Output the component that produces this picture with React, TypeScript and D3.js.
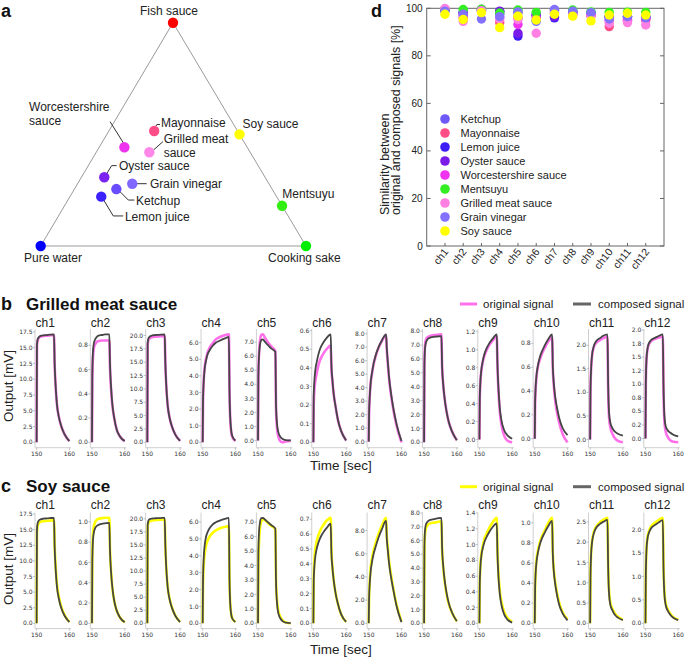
import React from 'react';
import * as d3 from 'd3';

const SANS = "'Liberation Sans', Arial, Helvetica, sans-serif";
const MPL = "'DejaVu Sans', sans-serif";

// ---------------- Panel a : ternary map ----------------
const TERN_NAMES = ['Fish sauce', 'Pure water', 'Cooking sake', 'Soy sauce', 'Mentsuyu', 'Mayonnaise', 'Grilled meat sauce', 'Worcestershire sauce', 'Oyster sauce', 'Grain vinegar', 'Ketchup', 'Lemon juice'];
const TERN_FISH = [1, 0, 0, 0.5, 0.18, 0.515, 0.42, 0.442, 0.308, 0.279, 0.255, 0.221];
const TERN_SAKE = [0, 0, 1, 0.5, 0.82, 0.171, 0.2, 0.095, 0.086, 0.206, 0.158, 0.118];
const TERN_COLORS = ['#ff0000', '#0000ff', '#00ee00', '#ffff00', '#33ee11', '#ff4d88', '#ff88e8', '#ee33ee', '#7a22f0', '#8068ff', '#6a4cff', '#3c22ff'];

// label layout: lines, offset from dot, anchor, leader polyline (offsets)
const TERN_LABEL_LAYOUT: { lines: string[]; dx: number; dy: number; anchor?: string; leader?: number[][] }[] = [
  { lines: ['Fish sauce'], dx: -4, dy: -7.7, anchor: 'middle' },
  { lines: ['Pure water'], dx: -16.7, dy: 16 },
  { lines: ['Cooking sake'], dx: -38, dy: 16 },
  { lines: ['Soy sauce'], dx: 3, dy: -6 },
  { lines: ['Mentsuyu'], dx: 0.3, dy: -8 },
  { lines: ['Mayonnaise'], dx: 6.7, dy: -4, leader: [[5.7, -6.5], [2.6, -6.5], [1.5, -4.5]] },
  { lines: ['Grilled meat', 'sauce'], dx: 14.3, dy: -9.5, leader: [[13.6, -10.6], [4.3, -2.3]] },
  { lines: ['Worcestershire', 'sauce'], dx: -95.3, dy: -36.2, leader: [[-14.3, -25.6], [-0.3, -3.3]] },
  { lines: ['Oyster sauce'], dx: 14.7, dy: -7.3, leader: [[12.4, -11.6], [7.4, -11.6], [1.7, -2.3]] },
  { lines: ['Grain vinegar'], dx: 17.7, dy: 4.3, leader: [[4.4, 0], [14.4, 0]] },
  { lines: ['Ketchup'], dx: 19.7, dy: 16, leader: [[2.7, 1.7], [12, 11], [18, 11]] },
  { lines: ['Lemon juice'], dx: 23.7, dy: 24.3, leader: [[2, 2.6], [12, 19.3], [22, 19.3]] },
];

// ---------------- Panel d : similarity ----------------
const CHANNELS = ['ch1', 'ch2', 'ch3', 'ch4', 'ch5', 'ch6', 'ch7', 'ch8', 'ch9', 'ch10', 'ch11', 'ch12'];
const SIM_NAMES = ['Ketchup', 'Mayonnaise', 'Lemon juice', 'Oyster sauce', 'Worcestershire sauce', 'Mentsuyu', 'Grilled meat sauce', 'Grain vinegar', 'Soy sauce'];
const SIM_COLORS = ['#6e58f8', '#ff4d88', '#3c1ef5', '#7a1ce8', '#f033f0', '#33ee22', '#ff80e2', '#8272ff', '#ffff00'];
const SIM_KETCHUP = [99, 98.5, 99.5, 97.5, 98, 95, 99.3, 98.5, 98, 96, 96.5, 96];
const SIM_MAYONNAISE = [99.5, 96, 99, 94, 96, 97, 98, 97.5, 97, 92.3, 95, 95];
const SIM_LEMON = [99.3, 98, 99, 98.6, 88.3, 97, 96, 98, 97.5, 96.5, 96, 96];
const SIM_OYSTER = [99.5, 98, 99.5, 98.8, 89.5, 97.5, 96.5, 98.5, 98, 96.5, 96.5, 96.5];
const SIM_WORCESTER = [99.5, 97, 99, 96, 93.2, 96, 98, 98, 97, 95, 95, 95.5];
const SIM_MENTSUYU = [99.5, 99.5, 99.6, 98, 99.3, 98.3, 99, 99.3, 98.5, 98.3, 98.4, 98.3];
const SIM_GRILLED = [99.9, 94.5, 99, 95.5, 95.3, 89.5, 99, 97, 97, 93.7, 94, 93];
const SIM_GRAIN = [98.8, 97.5, 95.5, 96.5, 98.5, 94.5, 99.5, 98.8, 98.2, 95.5, 96.5, 96];
const SIM_SOY = [97.5, 95.3, 98.2, 91.9, 96.7, 95.1, 97.5, 96.7, 94.7, 97.2, 97.9, 97.2];
const SIM_SERIES = [SIM_KETCHUP, SIM_MAYONNAISE, SIM_LEMON, SIM_OYSTER, SIM_WORCESTER, SIM_MENTSUYU, SIM_GRILLED, SIM_GRAIN, SIM_SOY];
const SIM_TICKS = [0, 20, 40, 60, 80, 100];

// ---------------- Panels b, c : signals ----------------
const TIME_STD = [150, 150.1, 150.3, 150.6, 151, 151.5, 152, 153, 154, 155.3, 155.5, 155.8, 156.2, 156.8, 157.5, 158.5, 160];
const TIME_CH4 = [150, 150.1, 150.3, 150.6, 151, 151.5, 152, 153, 154, 155, 156, 157, 158, 158.2, 158.5, 159, 160];
const X_TICKS = [150, 160];

const B_COMP = [
  [0, 15.5, 16.3, 16.6, 16.8, 16.9, 16.95, 17.0, 17.05, 17.1, 12.5, 9.0, 6.0, 4.0, 2.6, 1.3, 0.2],
  [0, 0.55, 0.75, 0.82, 0.85, 0.87, 0.88, 0.885, 0.89, 0.89, 0.65, 0.47, 0.32, 0.2, 0.11, 0.05, 0.01],
  [0, 18.5, 19.4, 19.7, 19.9, 20.0, 20.05, 20.1, 20.15, 20.2, 15.0, 10.5, 7.0, 4.6, 3.0, 1.5, 0.25],
  [0, 2.5, 3.6, 4.4, 4.9, 5.3, 5.5, 5.8, 6.0, 6.1, 6.2, 6.28, 6.35, 3.0, 1.2, 0.4, 0.1],
  [0, 4.5, 6.0, 6.8, 7.15, 7.2, 7.05, 6.8, 6.55, 6.3, 2.5, 1.2, 0.6, 0.28, 0.12, 0.04, 0.01],
  [0, 0.25, 0.33, 0.39, 0.43, 0.47, 0.5, 0.535, 0.56, 0.58, 0.42, 0.34, 0.26, 0.19, 0.12, 0.06, 0.01],
  [0, 2.0, 3.3, 4.4, 5.1, 5.8, 6.3, 7.0, 7.5, 7.95, 7.0, 6.0, 4.8, 3.6, 2.5, 1.3, 0.05],
  [0, 5.5, 6.8, 7.2, 7.4, 7.5, 7.55, 7.6, 7.62, 7.65, 5.5, 4.3, 3.3, 2.3, 1.5, 0.8, 0.15],
  [0, 0.45, 0.65, 0.78, 0.87, 0.95, 1.0, 1.07, 1.12, 1.17, 0.85, 0.58, 0.36, 0.2, 0.11, 0.05, 0.01],
  [0, 0.3, 0.45, 0.55, 0.62, 0.68, 0.72, 0.78, 0.83, 0.875, 0.62, 0.47, 0.36, 0.26, 0.17, 0.09, 0.03],
  [0, 1.0, 1.5, 1.8, 1.95, 2.05, 2.1, 2.15, 2.2, 2.23, 1.2, 0.55, 0.35, 0.24, 0.17, 0.12, 0.08],
  [0, 1.0, 1.45, 1.65, 1.75, 1.8, 1.83, 1.86, 1.89, 1.92, 1.0, 0.4, 0.22, 0.15, 0.11, 0.07, 0.04],
];
const B_ORIG = [
  [0, 15.3, 16.1, 16.5, 16.7, 16.8, 16.85, 16.9, 16.95, 17.0, 12.4, 8.9, 6.0, 4.0, 2.6, 1.3, 0.2],
  [0, 0.5, 0.7, 0.78, 0.81, 0.83, 0.835, 0.84, 0.84, 0.84, 0.62, 0.45, 0.31, 0.2, 0.11, 0.05, 0.01],
  [0, 18.2, 19.1, 19.4, 19.6, 19.7, 19.75, 19.8, 19.85, 19.9, 14.8, 10.4, 7.0, 4.6, 3.0, 1.5, 0.25],
  [0, 2.5, 3.7, 4.5, 5.0, 5.4, 5.65, 5.95, 6.2, 6.32, 6.4, 6.46, 6.5, 3.0, 1.1, 0.35, 0.08],
  [0, 4.6, 6.2, 7.1, 7.5, 7.55, 7.35, 7.0, 6.7, 6.35, 2.3, 0.9, 0.3, -0.05, -0.12, -0.06, 0.0],
  [0, 0.2, 0.28, 0.33, 0.37, 0.41, 0.44, 0.475, 0.5, 0.52, 0.4, 0.33, 0.26, 0.19, 0.12, 0.06, 0.01],
  [0, 2.0, 3.3, 4.35, 5.05, 5.75, 6.25, 6.95, 7.45, 7.9, 6.9, 5.9, 4.7, 3.5, 2.4, 1.2, -0.05],
  [0, 5.6, 7.0, 7.4, 7.55, 7.62, 7.68, 7.72, 7.75, 7.77, 5.5, 4.3, 3.3, 2.3, 1.5, 0.8, 0.15],
  [0, 0.45, 0.64, 0.77, 0.86, 0.93, 0.98, 1.05, 1.1, 1.15, 0.83, 0.55, 0.32, 0.15, 0.05, -0.01, -0.03],
  [0, 0.3, 0.44, 0.54, 0.61, 0.66, 0.7, 0.76, 0.81, 0.85, 0.6, 0.45, 0.33, 0.22, 0.13, 0.04, -0.03],
  [0, 1.0, 1.5, 1.78, 1.93, 2.02, 2.06, 2.11, 2.15, 2.18, 1.1, 0.45, 0.25, 0.12, 0.03, -0.03, -0.06],
  [0, 1.0, 1.45, 1.64, 1.73, 1.78, 1.81, 1.84, 1.86, 1.88, 0.9, 0.3, 0.12, 0.03, -0.03, -0.06, -0.07],
];
const C_COMP = [
  [0, 15.0, 16.0, 16.4, 16.6, 16.7, 16.75, 16.8, 16.85, 16.9, 12.3, 8.8, 5.9, 3.9, 2.5, 1.25, 0.2],
  [0, 0.6, 0.82, 0.9, 0.94, 0.96, 0.97, 0.98, 0.985, 0.99, 0.72, 0.52, 0.36, 0.22, 0.13, 0.06, 0.01],
  [0, 18.8, 19.6, 19.9, 20.0, 20.05, 20.1, 20.12, 20.15, 20.2, 15.0, 10.5, 7.0, 4.6, 3.0, 1.5, 0.25],
  [0, 2.5, 3.8, 4.6, 5.1, 5.4, 5.6, 5.85, 5.98, 6.07, 6.14, 6.2, 6.25, 2.5, 0.9, 0.3, 0.08],
  [0, 4.8, 6.3, 7.0, 7.28, 7.3, 7.2, 7.0, 6.8, 6.55, 2.8, 1.4, 0.7, 0.35, 0.15, 0.05, 0.01],
  [0, 0.28, 0.38, 0.45, 0.5, 0.54, 0.57, 0.61, 0.64, 0.67, 0.48, 0.38, 0.29, 0.2, 0.13, 0.06, 0.01],
  [0, 2.0, 3.4, 4.5, 5.3, 6.0, 6.5, 7.4, 8.1, 8.85, 7.4, 6.4, 5.2, 4.0, 2.9, 1.5, 0.1],
  [0, 5.5, 6.8, 7.2, 7.35, 7.45, 7.5, 7.55, 7.6, 7.65, 5.5, 4.3, 3.3, 2.3, 1.5, 0.8, 0.15],
  [0, 0.5, 0.72, 0.86, 0.95, 1.03, 1.08, 1.16, 1.22, 1.27, 0.9, 0.6, 0.38, 0.22, 0.12, 0.05, 0.01],
  [0, 0.35, 0.52, 0.63, 0.71, 0.78, 0.83, 0.9, 0.96, 1.02, 0.7, 0.52, 0.4, 0.28, 0.18, 0.1, 0.03],
  [0, 1.1, 1.7, 2.0, 2.18, 2.3, 2.37, 2.45, 2.5, 2.55, 1.4, 0.7, 0.45, 0.32, 0.22, 0.14, 0.08],
  [0, 1.0, 1.55, 1.8, 1.92, 2.0, 2.05, 2.1, 2.15, 2.2, 1.2, 0.6, 0.38, 0.27, 0.19, 0.12, 0.07],
];
const C_ORIG = [
  [0, 14.5, 15.6, 16.0, 16.2, 16.3, 16.35, 16.4, 16.45, 16.5, 12.5, 9.2, 6.3, 4.2, 2.7, 1.35, 0.22],
  [0, 0.65, 0.88, 0.96, 1.0, 1.02, 1.03, 1.035, 1.04, 1.04, 0.74, 0.53, 0.36, 0.22, 0.13, 0.06, 0.01],
  [0, 18.4, 19.2, 19.5, 19.6, 19.7, 19.75, 19.78, 19.82, 19.85, 14.9, 10.5, 7.1, 4.7, 3.1, 1.55, 0.27],
  [0, 2.3, 3.4, 4.1, 4.6, 4.9, 5.1, 5.35, 5.5, 5.6, 5.67, 5.72, 5.75, 2.4, 0.95, 0.32, 0.08],
  [0, 4.0, 5.6, 6.6, 7.05, 7.2, 7.15, 6.95, 6.75, 6.5, 3.0, 1.6, 0.85, 0.45, 0.2, 0.06, 0.01],
  [0, 0.3, 0.42, 0.5, 0.55, 0.59, 0.62, 0.66, 0.69, 0.71, 0.5, 0.39, 0.29, 0.2, 0.13, 0.06, 0.01],
  [0, 2.1, 3.6, 4.8, 5.6, 6.3, 6.8, 7.7, 8.4, 9.1, 7.6, 6.6, 5.4, 4.2, 3.0, 1.6, 0.15],
  [0, 5.2, 6.5, 6.9, 7.1, 7.2, 7.25, 7.3, 7.35, 7.4, 5.4, 4.2, 3.2, 2.2, 1.45, 0.78, 0.15],
  [0, 0.5, 0.73, 0.88, 0.98, 1.07, 1.12, 1.21, 1.28, 1.34, 0.95, 0.65, 0.42, 0.26, 0.15, 0.07, 0.02],
  [0, 0.35, 0.53, 0.65, 0.73, 0.8, 0.85, 0.92, 0.99, 1.05, 0.72, 0.54, 0.42, 0.3, 0.2, 0.11, 0.04],
  [0, 1.1, 1.72, 2.03, 2.21, 2.33, 2.4, 2.49, 2.55, 2.6, 1.5, 0.78, 0.5, 0.36, 0.25, 0.16, 0.09],
  [0, 1.0, 1.57, 1.83, 1.95, 2.04, 2.09, 2.15, 2.2, 2.25, 1.3, 0.66, 0.42, 0.3, 0.21, 0.13, 0.08],
];
const B_TICK_STEP = [2.5, 0.2, 2.5, 1, 1, 0.1, 1, 1, 0.2, 0.2, 0.5, 0.25];
const C_TICK_STEP = [2.5, 0.2, 2.5, 1, 1, 0.1, 2, 1, 0.2, 0.2, 0.5, 0.5];

// ---------------- helpers ----------------
function fmt1(v: number) {
  // matplotlib-like %.1f (round half to even)
  const v10 = v * 10;
  const fl = Math.floor(v10 + 1e-9);
  let r;
  if (Math.abs(v10 - fl - 0.5) < 1e-7) r = fl % 2 === 0 ? fl : fl + 1;
  else r = Math.round(v10);
  return (r / 10).toFixed(1);
}

function PanelA() {
  const F = [173, 22.7], W = [40.7, 246], S = [306, 246];
  const pos = TERN_NAMES.map((_, i) => {
    const f = TERN_FISH[i], s = TERN_SAKE[i];
    return [W[0] + f * (F[0] - W[0]) + s * (S[0] - W[0]), W[1] + f * (F[1] - W[1]) + s * (S[1] - W[1])];
  });
  const lineGen = d3.line();
  return (
    <g>
      <text x={1} y={17} fontSize={18} fontWeight="bold" fill="#111">a</text>
      <path d={lineGen([F as [number, number], W as [number, number], S as [number, number]])! + 'Z'} fill="none" stroke="#9a9a9a" strokeWidth={1} />
      {TERN_LABEL_LAYOUT.map((l, i) => l.leader ? (
        <path key={'ld' + i} d={lineGen(l.leader.map(p => [pos[i][0] + p[0], pos[i][1] + p[1]] as [number, number]))!} fill="none" stroke="#333" strokeWidth={1} />
      ) : null)}
      {pos.map((p, i) => <circle key={'c' + i} cx={p[0]} cy={p[1]} r={5.2} fill={TERN_COLORS[i]} />)}
      {TERN_LABEL_LAYOUT.map((l, i) => l.lines.map((ln, k) => (
        <text key={'t' + i + '_' + k} x={pos[i][0] + l.dx} y={pos[i][1] + l.dy + k * 14} fontSize={12} fill="#222" textAnchor={l.anchor || 'start'}>{ln}</text>
      )))}
    </g>
  );
}

function PanelD() {
  const x = d3.scaleLinear().domain([0, CHANNELS.length + 1]).range([426.7, 664]);
  const y = d3.scaleLinear().domain([0, 100]).range([246, 8.3]);
  const legY = d3.scaleLinear().domain([0, 1]).range([119, 133]);
  return (
    <g>
      <text x={371} y={17} fontSize={18} fontWeight="bold" fill="#111">d</text>
      <rect x={x(0)} y={y(100)} width={x(13) - x(0)} height={y(0) - y(100)} fill="none" stroke="#666" strokeWidth={1} />
      {SIM_TICKS.map(t => (
        <g key={t}>
          <line x1={x(0)} x2={x(0) + 4} y1={y(t)} y2={y(t)} stroke="#666" />
          <line x1={x(13)} x2={x(13) - 4} y1={y(t)} y2={y(t)} stroke="#666" />
          <text x={x(0) - 4} y={y(t)} dy="0.35em" textAnchor="end" fontSize={10} fill="#222">{t}</text>
        </g>
      ))}
      {CHANNELS.map((c, i) => (
        <g key={c}>
          <line x1={x(i + 1)} x2={x(i + 1)} y1={y(0)} y2={y(0) - 3} stroke="#666" />
          <text transform={`translate(${x(i + 1) + 4},${y(0) + 6}) rotate(-52)`} textAnchor="end" fontSize={10.5} fill="#222">{c}</text>
        </g>
      ))}
      {SIM_SERIES.map((s, si) => (
        <g key={si}>
          {s.map((v, i) => <circle key={i} cx={x(i + 1)} cy={y(v)} r={4.7} fill={SIM_COLORS[si]} />)}
        </g>
      ))}
      {SIM_NAMES.map((n, i) => (
        <g key={n}>
          <circle cx={445} cy={legY(i)} r={4.8} fill={SIM_COLORS[i]} />
          <text x={460.5} y={legY(i)} dy="0.36em" fontSize={11} fill="#222">{n}</text>
        </g>
      ))}
      <text transform="translate(389,215) rotate(-90)" fontSize={12.5} fill="#222">Similarity between</text>
      <text transform="translate(399.5,215) rotate(-90)" fontSize={12.5} fill="#222">original and composed signals [%]</text>
    </g>
  );
}

function SignalPanel(props: {
  letter: string; title: string; titleY: number; top: number; bottom: number; chY: number;
  comp: number[][]; orig: number[][]; steps: number[]; origColor: string; legendY: number; outY: number; timeY: number;
}) {
  const { letter, title, titleY, top, bottom, chY, comp, orig, steps, origColor, legendY, outY, timeY } = props;
  const left0 = 35, stepX = 55.35, w = 36;
  return (
    <g>
      <text x={1} y={titleY} fontSize={18} fontWeight="bold" fill="#111">{letter}</text>
      <text x={26} y={titleY} fontSize={17} fontWeight="bold" fill="#111">{title}</text>
      {/* legend */}
      <line x1={460} x2={477} y1={legendY} y2={legendY} stroke={origColor} strokeWidth={3} />
      <text x={483} y={legendY} dy="0.35em" fontSize={11.5} fill="#222">original signal</text>
      <line x1={573} x2={591} y1={legendY} y2={legendY} stroke="#666" strokeWidth={3} />
      <text x={598} y={legendY} dy="0.35em" fontSize={11.5} fill="#222">composed signal</text>
      <text transform={`translate(12.5,${outY}) rotate(-90)`} textAnchor="middle" fontSize={13.5} fill="#222">Output [mV]</text>
      <text x={341} y={timeY} textAnchor="middle" fontSize={13.5} fill="#222">Time [sec]</text>
      {CHANNELS.map((c, i) => {
        const xl = left0 + i * stepX;
        const times = i === 3 ? TIME_CH4 : TIME_STD;
        const all = comp[i].concat(orig[i]);
        const mn = d3.min(all)!, mx = d3.max(all)!;
        const pad = (mx - mn) * 0.05;
        const x = d3.scaleLinear().domain([149.5, 160.5]).range([xl, xl + w]);
        const y = d3.scaleLinear().domain([mn - pad, mx + pad]).range([bottom, top]);
        const ticks: number[] = [];
        for (let k = 0; k * steps[i] <= mx + pad + 1e-9; k++) ticks.push(k * steps[i]);
        const line = d3.line<number>().x((_, j) => x(times[j])).y(v => y(v)).curve(d3.curveMonotoneX);
        return (
          <g key={c}>
            <text x={xl + 0.5} y={chY} fontSize={12} fill="#222">{c}</text>
            <line x1={xl} x2={xl} y1={top} y2={bottom} stroke="#cfcfcf" strokeWidth={1} />
            <line x1={xl} x2={xl + w} y1={bottom} y2={bottom} stroke="#cfcfcf" strokeWidth={1} />
            {ticks.map(t => (
              <g key={t}>
                <line x1={xl - 2} x2={xl} y1={y(t)} y2={y(t)} stroke="#999" strokeWidth={0.6} />
                <text x={xl - 2.5} y={y(t)} dy="0.35em" textAnchor="end" fontSize={6} fontFamily={MPL} fill="#333">{fmt1(t)}</text>
              </g>
            ))}
            {X_TICKS.map(t => (
              <g key={t}>
                <line x1={x(t)} x2={x(t)} y1={bottom} y2={bottom + 2} stroke="#999" strokeWidth={0.6} />
                <text x={x(t)} y={bottom + 8} textAnchor="middle" fontSize={6} fontFamily={MPL} fill="#333">{t}</text>
              </g>
            ))}
            <path d={line(orig[i])!} fill="none" stroke={origColor} strokeWidth={2.6} />
            <path d={line(comp[i])!} fill="none" stroke="#454545" strokeWidth={1.8} />
          </g>
        );
      })}
    </g>
  );
}

export default function App() {
  return (
    <svg width={685} height={660} style={{ position: 'absolute', left: 0, top: 0, background: '#fff' }} fontFamily={SANS}>
      <rect x={0} y={0} width={685} height={660} fill="#fff" />
      <PanelA />
      <PanelD />
      <SignalPanel letter="b" title="Grilled meat sauce" titleY={310} top={329} bottom={447.7} chY={327}
        comp={B_COMP} orig={B_ORIG} steps={B_TICK_STEP} origColor="#ff70ea" legendY={304} outY={386} timeY={470} />
      <SignalPanel letter="c" title="Soy sauce" titleY={492} top={512.5} bottom={628.6} chY={508.5}
        comp={C_COMP} orig={C_ORIG} steps={C_TICK_STEP} origColor="#ffff00" legendY={486.7} outY={569} timeY={654} />
    </svg>
  );
}
